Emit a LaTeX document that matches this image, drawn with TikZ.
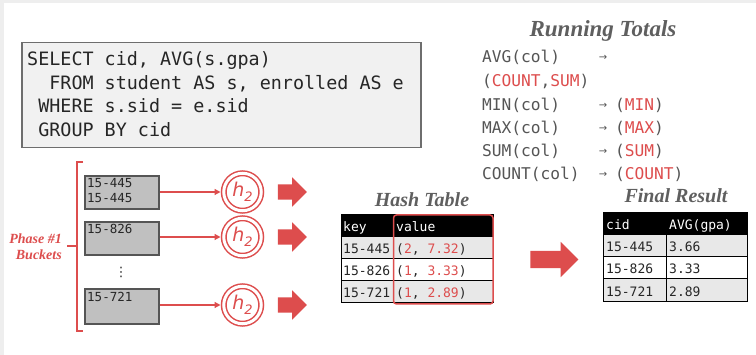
\documentclass[tikz,border=0pt]{standalone}
\usepackage{fontspec}
\setmainfont{Liberation Serif}
\setsansfont{DejaVu Sans}
\setmonofont{DejaVu Sans Mono}
\usetikzlibrary{shapes.arrows,arrows.meta}

\definecolor{hred}{RGB}{221,77,77}
\definecolor{sqlfill}{RGB}{241,241,241}
\definecolor{sqlline}{RGB}{110,110,110}
\definecolor{bktfill}{RGB}{192,192,192}
\definecolor{bktline}{RGB}{85,85,85}
\definecolor{rowgray}{RGB}{232,232,232}
\definecolor{txtgray}{RGB}{85,85,85}
\definecolor{ttlgray}{RGB}{95,95,95}
\definecolor{edgegray}{RGB}{238,238,238}

\newcommand{\hashname}{\itshape h\raisebox{-5pt}{\fontsize{13}{13}\selectfont 2}}

\tikzset{
  sqlbox/.style={draw=sqlline, fill=sqlfill, line width=1.5pt, inner sep=0pt},
  sqltext/.style={font=\ttfamily\fontsize{18.4}{22}\selectfont, text=black!85, inner sep=0pt, anchor=base west},
  rttext/.style={font=\ttfamily\fontsize{16.2}{20}\selectfont, text=txtgray, inner sep=0pt, anchor=base west},
  rtarrow/.style={font=\sffamily\fontsize{10}{12}\selectfont, text=txtgray, inner sep=0pt},
  title/.style={font=\bfseries\itshape\fontsize{23}{26}\selectfont, text=ttlgray, inner sep=0pt, anchor=base},
  subtitle/.style={font=\bfseries\itshape\fontsize{20}{24}\selectfont, text=ttlgray, inner sep=0pt, anchor=base},
  bucket/.style={draw=bktline, fill=bktfill, line width=2pt, inner sep=0pt, minimum width=74pt, anchor=north west},
  bkttext/.style={font=\ttfamily\fontsize{12.5}{15}\selectfont, text=black!85, inner sep=0pt, anchor=base west},
  hashfn/.style={circle, draw=hred, double=white, double distance=3pt, line width=1.5pt,
                 minimum size=37.5pt, inner sep=0pt, text=hred, font=\sffamily\fontsize{19}{22}\selectfont},
  feed/.style={draw=hred, line width=1.3pt, -{Triangle[length=6pt,width=6pt]}, shorten >=2.5pt},
  fat/.style={single arrow, fill=hred, draw=none, minimum height=29pt, inner xsep=0pt,
              inner ysep=7.5pt, single arrow head extend=7pt},
  bigfat/.style={single arrow, fill=hred, draw=none, minimum height=48pt, inner xsep=0pt,
                 inner ysep=8.5pt, single arrow head extend=9pt},
  cell/.style={font=\ttfamily\fontsize{13}{16}\selectfont, text=black!85, inner sep=0pt, anchor=base west},
  hcell/.style={cell, text=white},
  grid/.style={draw=black, line width=1pt},
  phase/.style={font=\bfseries\itshape\fontsize{14}{16}\selectfont, text=hred, inner sep=0pt, align=right, anchor=east},
}

\begin{document}
\begin{tikzpicture}[x=1pt, y=-1pt]
\useasboundingbox (0,0) rectangle (756,355);
\fill[edgegray] (0,0) rectangle (756,355);
\fill[white] (4,3) rectangle (756,355);

% ---- query ----
\node[sqlbox, minimum width=399pt, minimum height=105pt, anchor=north west] (sql) at (21,42) {};
\node[sqltext] (q1) at (27,66) {SELECT cid, AVG(s.gpa)};
\node[sqltext] (q2) at (27,90) {\phantom{SE}FROM student AS s, enrolled AS e};
\node[sqltext] (q3) at (27,113) {\phantom{S}WHERE s.sid = e.sid};
\node[sqltext] (q4) at (27,137) {\phantom{S}GROUP BY cid};

% ---- running totals ----
\node[title] (rt) at (603,37) {Running Totals};
\node[rttext] (r1) at (482,63) {AVG(col)};
\node[rtarrow] (a1) at (603,58) {→};
\node[rttext] (r1b) at (482,87) {(\textcolor{hred}{COUNT},\textcolor{hred}{SUM})};
\node[rttext] (r2) at (482,110.5) {MIN(col)};
\node[rtarrow] (a2) at (603,105.5) {→};
\node[rttext] (r2b) at (615,110.5) {(\textcolor{hred}{MIN})};
\node[rttext] (r3) at (482,134) {MAX(col)};
\node[rtarrow] (a3) at (603,129) {→};
\node[rttext] (r3b) at (615,134) {(\textcolor{hred}{MAX})};
\node[rttext] (r4) at (482,157) {SUM(col)};
\node[rtarrow] (a4) at (603,152) {→};
\node[rttext] (r4b) at (615,157) {(\textcolor{hred}{SUM})};
\node[rttext] (r5) at (482,180) {COUNT(col)};
\node[rtarrow] (a5) at (603,175) {→};
\node[rttext] (r5b) at (615,180) {(\textcolor{hred}{COUNT})};

% ---- phase #1 buckets ----
\draw[hred, line width=1.5pt] (83,162) -- (77,162) -- (77,331) -- (83,331);
\draw[hred, line width=1.5pt] (77,246) -- (67,246);
\node[phase] (ph) at (62,247) {Phase \#1\\Buckets};

\node[bucket, minimum height=33pt] (b1) at (84,175) {};
\node[bucket, minimum height=33pt] (b2) at (84,221) {};
\node[bucket, minimum height=35pt] (b3) at (84,288) {};
\node[bkttext] (t1a) at (87,188) {15-445};
\node[bkttext] (t1b) at (87,203) {15-445};
\node[bkttext] (t2) at (87,234) {15-826};
\node[bkttext] (t3) at (87,302) {15-721};
\node[inner sep=0pt, font=\sffamily\fontsize{13}{13}\selectfont, text=black!85] (dots) at (121,272) {⋮};

\node[hashfn] (h1) at (242.5,192) {\hashname};
\node[hashfn] (h2) at (242.5,237) {\hashname};
\node[hashfn] (h3) at (242.5,305) {\hashname};
\draw[feed] (b1.east |- h1) -- (h1.west);
\draw[feed] (b2.east |- h2) -- (h2.west);
\draw[feed] (b3.east |- h3) -- (h3.west);

\node[fat] (f1) at (288.5,192) {};
\node[fat] (f2) at (288.5,237) {};
\node[fat] (f3) at (288.5,305) {};

% ---- hash table ----
\node[subtitle] (ht) at (422,207) {Hash Table};
\fill[black] (341,215) rectangle (493,237);
\fill[rowgray] (341,237) rectangle (493,259);
\fill[white] (341,259) rectangle (493,281);
\fill[rowgray] (341,281) rectangle (493,303);
\draw[grid] (341,215) rectangle (493,303);
\draw[grid] (341,259) -- (493,259) (341,281) -- (493,281) (341,237) -- (493,237);
\draw[grid] (393,215) -- (393,303);
\node[hcell] (hk) at (343,232) {key};
\node[hcell] (hv) at (396,232) {value};
\node[cell] (k1) at (343,254) {15-445};
\node[cell] (v1) at (396,254) {(\textcolor{hred}{2}, \textcolor{hred}{7.32})};
\node[cell] (k2) at (343,276) {15-826};
\node[cell] (v2) at (396,276) {(\textcolor{hred}{1}, \textcolor{hred}{3.33})};
\node[cell] (k3) at (343,298) {15-721};
\node[cell] (v3) at (396,298) {(\textcolor{hred}{1}, \textcolor{hred}{2.89})};
\draw[hred, line width=1.5pt, rounded corners=3pt] (393.5,215) rectangle (493,304);

\node[bigfat] (mid) at (550,259.5) {};

% ---- final result ----
\node[subtitle] (fr) at (676,203) {Final Result};
\fill[black] (603,213) rectangle (747,235);
\fill[rowgray] (603,235) rectangle (747,257);
\fill[white] (603,257) rectangle (747,279);
\fill[rowgray] (603,279) rectangle (747,302);
\draw[grid] (603,213) rectangle (747,302);
\draw[grid] (603,235) -- (747,235) (603,257) -- (747,257) (603,279) -- (747,279);
\draw[grid] (666,213) -- (666,302);
\node[hcell] (hc) at (606,230) {cid};
\node[hcell] (ha) at (669,230) {AVG(gpa)};
\node[cell] (c1) at (606,252) {15-445};
\node[cell] (g1) at (669,252) {3.66};
\node[cell] (c2) at (606,274) {15-826};
\node[cell] (g2) at (669,274) {3.33};
\node[cell] (c3) at (606,297) {15-721};
\node[cell] (g3) at (669,297) {2.89};
\end{tikzpicture}
\end{document}
